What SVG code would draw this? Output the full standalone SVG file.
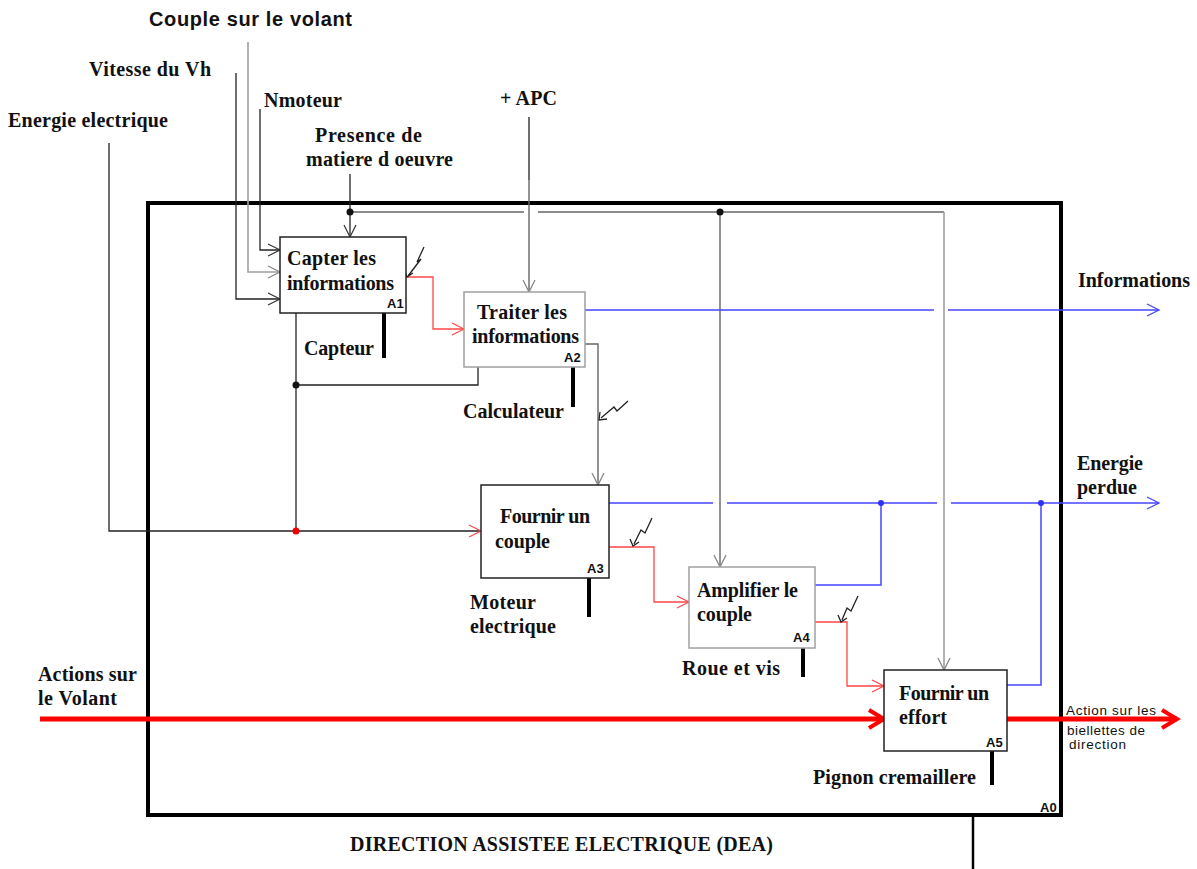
<svg xmlns="http://www.w3.org/2000/svg" width="1197" height="869" viewBox="0 0 1197 869">
<style>
.frame{fill:none;stroke:#000;stroke-width:4}
.box{fill:#fff;stroke:#222;stroke-width:1.5}
.boxg{fill:#fff;stroke:#a0a0a0;stroke-width:1.5}
.t{font-family:"Liberation Serif","Times New Roman",serif;font-weight:bold;font-size:20px;fill:#111}
.s{font-family:"Liberation Sans",Arial,sans-serif;font-weight:bold;font-size:20px;fill:#111}
.n{font-family:"Liberation Sans",Arial,sans-serif;font-size:13.5px;fill:#111}
.a{font-family:"Liberation Sans",Arial,sans-serif;font-weight:bold;font-size:13px;fill:#111}
.lk{fill:none;stroke:#222;stroke-width:1.3}
.ld{fill:none;stroke:#666;stroke-width:1.4}
.lg{fill:none;stroke:#a0a0a0;stroke-width:1.6}
.lr{fill:none;stroke:#ff4545;stroke-width:1.3}
.lb{fill:none;stroke:#4545ff;stroke-width:1.5}
.lt{fill:none;stroke:#ff0000;stroke-width:5}
.bolt{fill:none;stroke:#222;stroke-width:1.3}
.mech{stroke:#000;stroke-width:4}
</style>
<defs>
<marker id="ak" markerUnits="userSpaceOnUse" markerWidth="14" markerHeight="14" refX="12" refY="6" orient="auto" overflow="visible"><path d="M0,0 L12,6 L0,12" fill="none" stroke="#333" stroke-width="1.2"/></marker>
<marker id="ag" markerUnits="userSpaceOnUse" markerWidth="14" markerHeight="14" refX="12" refY="6" orient="auto" overflow="visible"><path d="M0,0 L12,6 L0,12" fill="none" stroke="#888" stroke-width="1.3"/></marker>
<marker id="ar" markerUnits="userSpaceOnUse" markerWidth="14" markerHeight="14" refX="12" refY="6" orient="auto" overflow="visible"><path d="M0,0 L12,6 L0,12" fill="none" stroke="#ff4545" stroke-width="1.2"/></marker>
<marker id="ab" markerUnits="userSpaceOnUse" markerWidth="14" markerHeight="14" refX="12" refY="6" orient="auto" overflow="visible"><path d="M0,0 L12,6 L0,12" fill="none" stroke="#4545ff" stroke-width="1.3"/></marker>
<marker id="at" markerUnits="userSpaceOnUse" markerWidth="20" markerHeight="20" refX="15" refY="9" orient="auto" overflow="visible"><path d="M0,0 L15,9 L0,18" fill="none" stroke="#ff0000" stroke-width="4"/></marker>
</defs>
<rect width="1197" height="869" fill="#fff"/>

<g id="A0">
<rect class="frame" x="148" y="203" width="913" height="612"/>
<text class="a" x="1040" y="812">A0</text>
<text class="t" x="350" y="851" textLength="423">DIRECTION ASSISTEE ELECTRIQUE (DEA)</text>
</g>

<g id="connectors">
<polyline class="lg" points="248,42 248,272 280,272" marker-end="url(#ag)"/>
<polyline class="lk" points="236,73 236,299 280,299" marker-end="url(#ak)"/>
<polyline class="lk" points="260,109 260,250 280,250" marker-end="url(#ak)"/>
<polyline class="lk" points="109,143 109,531 481,531" marker-end="url(#ar)"/>
<polyline class="lk" points="350,174 350,237" marker-end="url(#ak)"/>
<polyline class="ld" points="350,212 524,212"/>
<polyline class="ld" points="538,212 944,212"/>
<polyline class="lg" points="944,212 944,670" marker-end="url(#ag)"/>
<polyline class="ld" points="720,212 720,567" marker-end="url(#ag)"/>
<polyline class="lk" points="529,117 529,180"/>
<polyline class="ld" points="529,180 529,292" marker-end="url(#ag)"/>
<polyline class="lk" points="296,313 296,531"/>
<polyline class="lk" points="478,367 478,385 296,385"/>
<polyline class="lr" points="406,277 433,277 433,329 464,329" marker-end="url(#ar)"/>
<polyline class="lb" points="585,310 934,310"/>
<polyline class="lb" points="948,310 1159,310" marker-end="url(#ab)"/>
<polyline class="ld" points="585,344 598,344 598,485" marker-end="url(#ag)"/>
<polyline class="lb" points="609,503 713,503"/>
<polyline class="lb" points="727,503 937,503"/>
<polyline class="lb" points="951,503 1159,503" marker-end="url(#ab)"/>
<polyline class="lb" points="815,585 881,585 881,503"/>
<polyline class="lb" points="1007,685 1041,685 1041,503"/>
<polyline class="lr" points="609,547 654,547 654,602 689,602" marker-end="url(#ar)"/>
<polyline class="lr" points="815,622 847,622 847,686 884,686" marker-end="url(#ar)"/>
<polyline class="lt" points="40,719 884,719" marker-end="url(#at)"/>
<polyline class="lt" points="1007,719 1177,719" marker-end="url(#at)"/>
<line x1="973" y1="815" x2="973" y2="869" stroke="#000" stroke-width="2.5"/>
<circle cx="350" cy="212" r="3.5" fill="#111"/>
<circle cx="720" cy="212" r="3.5" fill="#111"/>
<circle cx="296" cy="385" r="3.5" fill="#111"/>
<circle cx="296" cy="531" r="3.5" fill="#e00"/>
<circle cx="881" cy="503" r="3" fill="#3030ff"/>
<circle cx="1041" cy="503" r="3" fill="#3030ff"/>
<path class="bolt" d="M424,247 L417,262 L421,259 L408,276 M404,270 L407,277 L413,273"/>
<path class="bolt" d="M628,401 L617,411 L614,407 L601,418 M600,412 L599,420 L607,419"/>
<path class="bolt" d="M652,518 L645,533 L641,530 L634,544 M630,539 L633,546 L639,542"/>
<path class="bolt" d="M858,596 L851,611 L847,608 L842,620 M838,615 L841,622 L847,618"/>
<line class="mech" x1="384" y1="313" x2="384" y2="358"/>
<line class="mech" x1="573" y1="367" x2="573" y2="407"/>
<line class="mech" x1="589" y1="578" x2="589" y2="617"/>
<line class="mech" x1="803" y1="648" x2="803" y2="677"/>
<line class="mech" x1="992" y1="751" x2="992" y2="785"/>
</g>

<g id="labels">
<text class="s" x="149" y="26" textLength="203">Couple sur le volant</text>
<text class="t" x="89" y="76" textLength="122">Vitesse du Vh</text>
<text class="t" x="264" y="107" textLength="78">Nmoteur</text>
<text class="t" x="8" y="127" textLength="160">Energie electrique</text>
<text class="t" x="315" y="142" textLength="107">Presence de</text>
<text class="t" x="306" y="166" textLength="147">matiere d oeuvre</text>
<text class="t" x="500" y="105" textLength="57">+ APC</text>
<text class="t" x="1078" y="287" textLength="112">Informations</text>
<text class="t" x="1077" y="470" textLength="66">Energie</text>
<text class="t" x="1077" y="494" textLength="60">perdue</text>
<text class="t" x="38" y="681" textLength="99">Actions sur</text>
<text class="t" x="38" y="705" textLength="79">le Volant</text>
<text class="n" x="1066" y="715" textLength="90">Action sur les</text>
<text class="n" x="1067" y="735" textLength="78">biellettes de</text>
<text class="n" x="1069" y="749" textLength="57">direction</text>
<text class="t" x="304" y="355" textLength="70">Capteur</text>
<text class="t" x="463" y="418" textLength="101">Calculateur</text>
<text class="t" x="470" y="609" textLength="66">Moteur</text>
<text class="t" x="470" y="633" textLength="86">electrique</text>
<text class="t" x="682" y="675" textLength="98">Roue et vis</text>
<text class="t" x="813" y="784" textLength="163">Pignon cremaillere</text>
</g>

<g id="A1">
<rect class="box" x="280" y="237" width="126" height="76"/>
<text class="t" x="287" y="265" textLength="89">Capter les</text>
<text class="t" x="287" y="290" textLength="107">informations</text>
<text class="a" x="387" y="308">A1</text>
</g>
<g id="A2">
<rect class="boxg" x="464" y="292" width="121" height="75"/>
<text class="t" x="477" y="319" textLength="90">Traiter les</text>
<text class="t" x="472" y="343" textLength="107">informations</text>
<text class="a" x="564" y="362">A2</text>
</g>
<g id="A3">
<rect class="box" x="481" y="485" width="128" height="93"/>
<text class="t" x="500" y="523" textLength="90">Fournir un</text>
<text class="t" x="495" y="548" textLength="55">couple</text>
<text class="a" x="587" y="573">A3</text>
</g>
<g id="A4">
<rect class="boxg" x="689" y="567" width="126" height="81"/>
<text class="t" x="697" y="597" textLength="101">Amplifier le</text>
<text class="t" x="697" y="621" textLength="55">couple</text>
<text class="a" x="793" y="642">A4</text>
</g>
<g id="A5">
<rect class="box" x="884" y="670" width="123" height="81"/>
<text class="t" x="899" y="700" textLength="90">Fournir un</text>
<text class="t" x="899" y="724" textLength="48">effort</text>
<text class="a" x="986" y="747">A5</text>
</g>
</svg>
